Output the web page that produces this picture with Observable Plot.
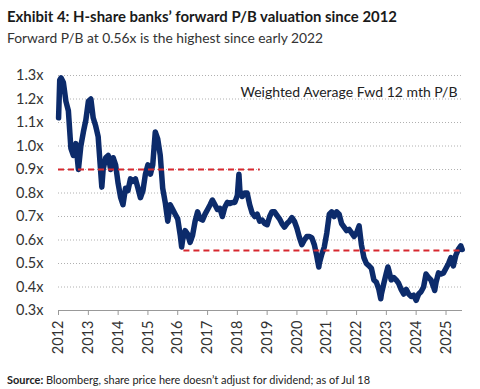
<!DOCTYPE html>
<html><head><meta charset="utf-8">
<script src="https://cdn.jsdelivr.net/npm/d3@7"></script>
<script src="https://cdn.jsdelivr.net/npm/@observablehq/plot@0.6"></script>
<style>
body{margin:0;background:#fff;width:480px;height:389px;overflow:hidden;position:relative;font-family:Lato,sans-serif;color:#222}
.t{position:absolute;left:7px;white-space:nowrap;transform-origin:0 0;line-height:1}
#title{top:9px;font-weight:700;font-size:15.5px;color:#1a1a1a}
#sub{top:31px;font-size:14px;color:#333}
#foot{top:374px;font-size:11.5px;color:#222}
#chart{position:absolute;left:0;top:50px}
</style></head>
<body>
<div id="title" class="t">Exhibit 4: H-share banks’ forward P/B valuation since 2012</div>
<div id="sub" class="t">Forward P/B at 0.56x is the highest since early 2022</div>
<div id="chart"></div>
<div id="foot" class="t"><b>Source:</b> Bloomberg, share price here doesn’t adjust for dividend; as of Jul 18</div>
<script>
const dates = [
"2012-01-02","2012-01-16","2012-02-01","2012-03-01","2012-04-01","2012-05-01","2012-06-01","2012-07-01","2012-08-01","2012-09-01","2012-10-01","2012-11-01","2012-12-01",
"2013-01-01","2013-02-01","2013-03-01","2013-04-01","2013-05-01","2013-06-01","2013-06-15","2013-07-01","2013-08-01","2013-09-01","2013-10-01","2013-11-01","2013-12-01",
"2014-01-01","2014-02-01","2014-03-01","2014-04-01","2014-05-01","2014-06-01","2014-07-01","2014-08-01","2014-09-01","2014-10-01","2014-11-01","2014-12-01",
"2015-01-01","2015-02-01","2015-03-01","2015-04-01","2015-05-01","2015-06-01","2015-07-01","2015-08-01","2015-09-01","2015-10-01","2015-11-01","2015-12-01",
"2016-01-01","2016-02-01","2016-02-18","2016-03-01","2016-04-01","2016-05-01","2016-06-01","2016-07-01","2016-08-01","2016-09-01","2016-10-01","2016-11-01","2016-12-01",
"2017-01-01","2017-02-01","2017-03-01","2017-04-01","2017-05-01","2017-06-01","2017-07-01","2017-08-01","2017-09-01","2017-10-01","2017-11-01","2017-12-01",
"2018-01-01","2018-01-20","2018-02-01","2018-03-01","2018-04-01","2018-05-01","2018-06-01","2018-07-01","2018-08-01","2018-09-01","2018-10-01","2018-11-01","2018-12-01",
"2019-01-01","2019-02-01","2019-03-01","2019-04-01","2019-05-01","2019-06-01","2019-07-01","2019-08-01","2019-09-01","2019-10-01","2019-11-01","2019-12-01",
"2020-01-01","2020-02-01","2020-03-01","2020-04-01","2020-05-01","2020-06-01","2020-07-01","2020-08-01","2020-09-01","2020-09-25","2020-10-01","2020-11-01","2020-12-01",
"2021-01-01","2021-02-01","2021-03-01","2021-04-01","2021-05-01","2021-06-01","2021-07-01","2021-08-01","2021-09-01","2021-10-01","2021-11-01","2021-12-01",
"2022-01-01","2022-02-01","2022-03-01","2022-04-01","2022-05-01","2022-06-01","2022-07-01","2022-08-01","2022-09-01","2022-10-01","2022-10-24","2022-11-01","2022-12-01",
"2023-01-01","2023-01-20","2023-02-01","2023-03-01","2023-04-01","2023-05-01","2023-06-01","2023-07-01","2023-08-01","2023-09-01","2023-10-01","2023-11-01","2023-12-01",
"2024-01-01","2024-02-01","2024-03-01","2024-04-01","2024-05-01","2024-06-01","2024-07-01","2024-08-01","2024-08-15","2024-09-01","2024-10-01","2024-11-01","2024-12-01",
"2025-01-01","2025-02-01","2025-03-01","2025-04-01","2025-05-01","2025-06-01","2025-07-01","2025-07-18"
];
const pb = [
1.12,1.28,1.29,1.27,1.19,1.15,0.99,0.96,1.01,0.90,1.00,1.06,1.11,
1.19,1.20,1.12,1.085,1.04,0.89,0.825,0.90,0.95,0.96,0.90,0.95,0.92,
0.84,0.78,0.75,0.82,0.81,0.86,0.85,0.86,0.82,0.78,0.81,0.88,
0.92,0.88,0.92,1.06,1.03,0.96,0.82,0.76,0.68,0.75,0.73,0.71,
0.69,0.62,0.57,0.60,0.64,0.625,0.59,0.62,0.68,0.72,0.69,0.685,0.71,
0.73,0.75,0.77,0.75,0.73,0.735,0.70,0.74,0.76,0.755,0.76,0.76,
0.79,0.88,0.81,0.785,0.80,0.80,0.75,0.715,0.70,0.71,0.68,0.685,0.67,
0.665,0.70,0.72,0.72,0.705,0.69,0.67,0.655,0.67,0.68,0.695,0.68,
0.65,0.61,0.58,0.60,0.615,0.615,0.61,0.58,0.53,0.485,0.50,0.54,0.57,
0.63,0.71,0.72,0.70,0.72,0.71,0.67,0.655,0.64,0.645,0.63,0.615,
0.63,0.66,0.58,0.525,0.50,0.49,0.48,0.43,0.42,0.39,0.35,0.37,0.415,
0.46,0.485,0.47,0.43,0.44,0.43,0.415,0.39,0.37,0.39,0.37,0.36,0.365,
0.343,0.37,0.38,0.40,0.455,0.44,0.43,0.40,0.385,0.42,0.46,0.455,0.46,
0.48,0.50,0.525,0.49,0.535,0.56,0.575,0.56
];
const yTicks = [0.3,0.4,0.5,0.6,0.7,0.8,0.9,1.0,1.1,1.2,1.3];
const gridVals = [0.4,0.5,0.6,0.7,0.8,0.9,1.0,1.1,1.2,1.3];
const yearTicks = ["2012","2013","2014","2015","2016","2017","2018","2019","2020","2021","2022","2023","2024","2025"];
const dashY = [0.9, 0.555];
const dashFrom = ["2012-01-01","2016-03-17"];
const dashTo = ["2018-10-08","2025-07-18"];
const annotation = "Weighted Average Fwd 12 mth P/B";

const data = dates.map((d,i)=>({date:new Date(d), pb:pb[i]}));
const dashes = dashY.map((y,i)=>({y, x1:new Date(dashFrom[i]), x2:new Date(dashTo[i])}));

const chart = Plot.plot({
  width:480, height:312, marginLeft:58, marginRight:18, marginTop:25, marginBottom:52,
  x:{type:"utc", domain:[new Date("2012-01-01"), new Date("2025-07-22")]},
  y:{domain:[0.3,1.3]},
  style:{fontFamily:"Lato, sans-serif", fontSize:"14.5px", color:"#333", background:"#fff"},
  marks:[
    Plot.ruleY(gridVals,{stroke:"#b0b0b0", strokeDasharray:"1,2"}),
    Plot.ruleY([0.3],{stroke:"#999"}),
    Plot.axisY({ticks:yTicks, tickFormat:d=>d.toFixed(1)+"x", tickSize:0, tickPadding:15, label:null}),
    Plot.axisX({ticks:yearTicks.map(y=>new Date(y+"-01-01")), tickFormat:d3.utcFormat("%Y"), tickRotate:-90, tickSize:5, tickPadding:5, stroke:"#999", label:null}),
    Plot.line(data,{x:"date", y:"pb", stroke:"#0c2b6b", strokeWidth:5.5, strokeLinejoin:"round", strokeLinecap:"round"}),
    Plot.ruleY(dashes,{y:"y", x1:"x1", x2:"x2", stroke:"#d7282f", strokeWidth:2, strokeDasharray:"6,4"}),
    Plot.text([annotation],{frameAnchor:"top-right", dx:-5, dy:12, fontSize:14, textAnchor:"end", fill:"#222"})
  ]
});
document.getElementById("chart").append(chart);

function fit(id, target){
  const el = document.getElementById(id);
  const w = el.getBoundingClientRect().width;
  el.style.transform = `scaleX(${target/w})`;
}
fit("title", 390); fit("sub", 316); fit("foot", 363);
</script>
</body></html>
